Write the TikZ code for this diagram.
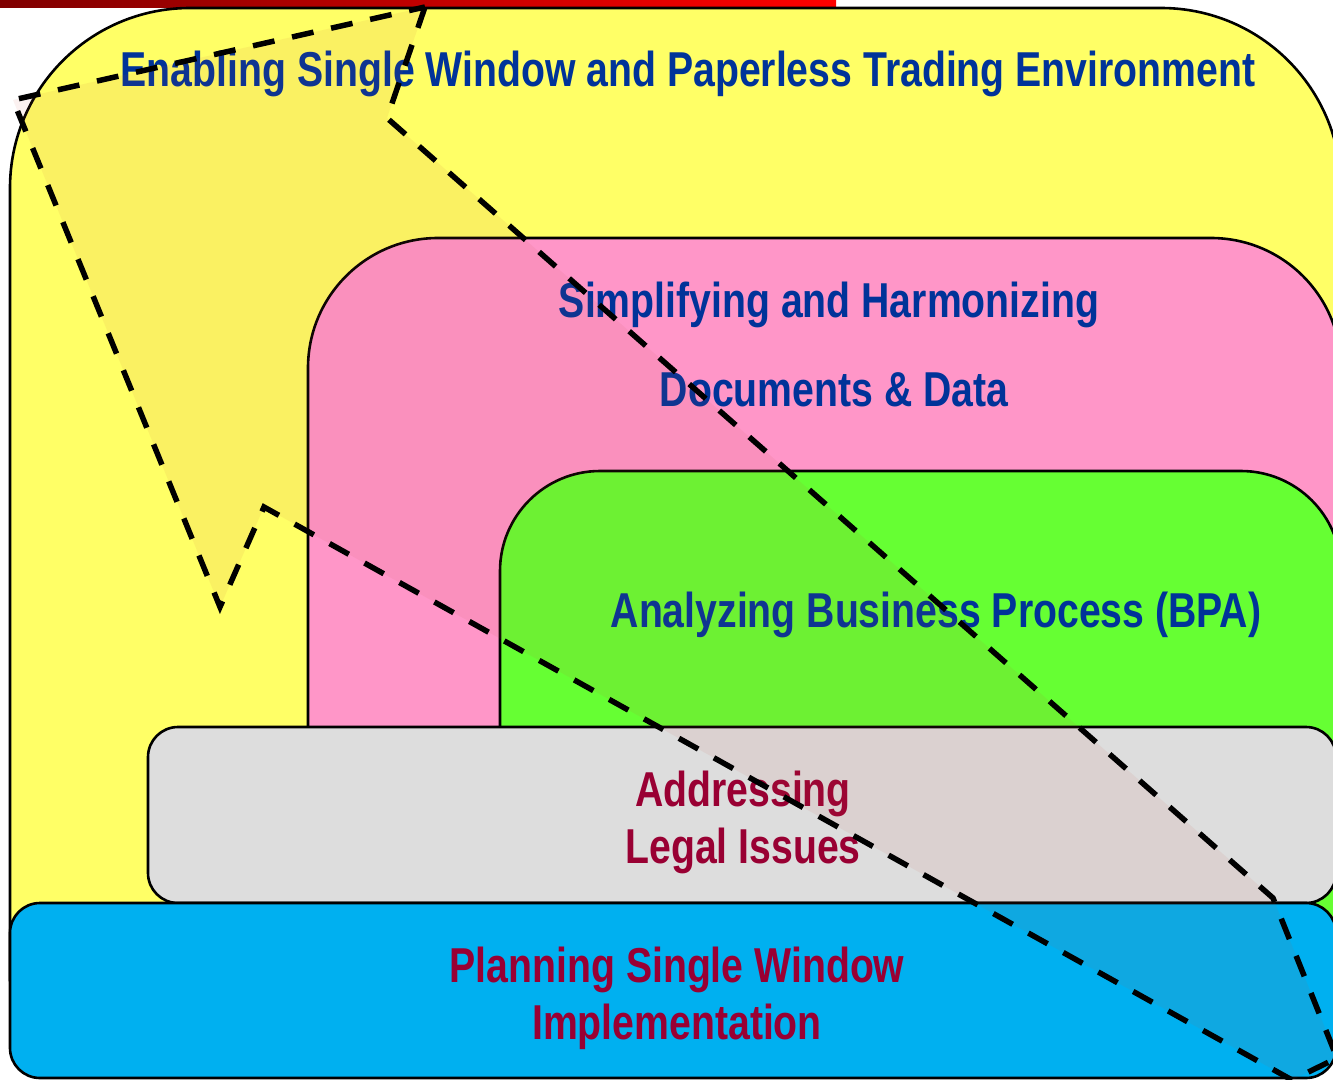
\documentclass[tikz,border=0pt]{standalone}
\usepackage{fontspec}
\newfontfamily\narb[FakeStretch=0.80]{Liberation Sans}
\definecolor{syellow}{RGB}{255,255,102}
\definecolor{spink}{RGB}{255,150,200}
\definecolor{sgreen}{RGB}{102,255,51}
\definecolor{sgray}{RGB}{221,221,221}
\definecolor{sblue}{RGB}{0,176,240}
\definecolor{txtblue}{RGB}{0,51,153}
\definecolor{txtred}{RGB}{153,0,51}
\definecolor{arrowfill}{RGB}{200,80,60}
\definecolor{bardark}{RGB}{128,0,0}
\definecolor{barred}{RGB}{255,0,0}
\begin{document}
\begin{tikzpicture}[x=1pt,y=-1pt,
  box/.style={draw=black,line width=2.6pt},
  bluetxt/.style={text=txtblue,font=\narb\bfseries\fontsize{49}{57}\selectfont,align=center,inner sep=0pt},
  redtxt/.style={text=txtred,font=\narb\bfseries\fontsize{49}{57}\selectfont,align=center,inner sep=0pt},
  arrowshape/.style={draw=black,line width=5.5pt,dash pattern=on 22pt off 18pt,fill=arrowfill,fill opacity=0.08}]
\useasboundingbox (0,0) rectangle (1333,1079);
\clip (0,0) rectangle (1333,1079);
% top bar
\shade[left color=bardark,right color=barred] (0,0) rectangle (836,7);
% layers
\path[box,fill=syellow] (10,980) -- (10,188) arc[start angle=180,end angle=270,radius=180]
  -- (1161,8) arc[start angle=270,end angle=360,radius=180] -- (1341,980) -- cycle;
\path[box,fill=spink] (308,980) -- (308,368) arc[start angle=180,end angle=270,radius=130]
  -- (1211,238) arc[start angle=270,end angle=360,radius=130] -- (1341,980) -- cycle;
\path[box,fill=sgreen] (500,980) -- (500,571) arc[start angle=180,end angle=270,radius=100]
  -- (1241,471) arc[start angle=270,end angle=360,radius=100] -- (1341,980) -- cycle;
\path[box,fill=sgray,rounded corners=30pt] (148,727) rectangle (1336,903);
\path[box,fill=sblue,rounded corners=30pt] (10,903) rectangle (1336,1078);
% texts
\node[bluetxt] (t1) at (688,74) {Enabling Single Window and Paperless Trading Environment};
\node[bluetxt] (t2) at (829,305) {Simplifying and Harmonizing};
\node[bluetxt] (t3) at (834,390) {Documents \& Data};
\node[bluetxt] (t4) at (936,615) {Analyzing Business Process (BPA)};
\node[redtxt] (t5) at (743,822) {Addressing\\Legal Issues};
\node[redtxt] (t6) at (677,998) {Planning Single Window\\Implementation};
% arrow
\draw[arrowshape] (425,7) -- (387,118) -- (1273,898) -- (1337,1058) -- (1292,1080) -- (264,507) -- (220,607) -- (13,100) -- cycle;
\end{tikzpicture}
\end{document}
